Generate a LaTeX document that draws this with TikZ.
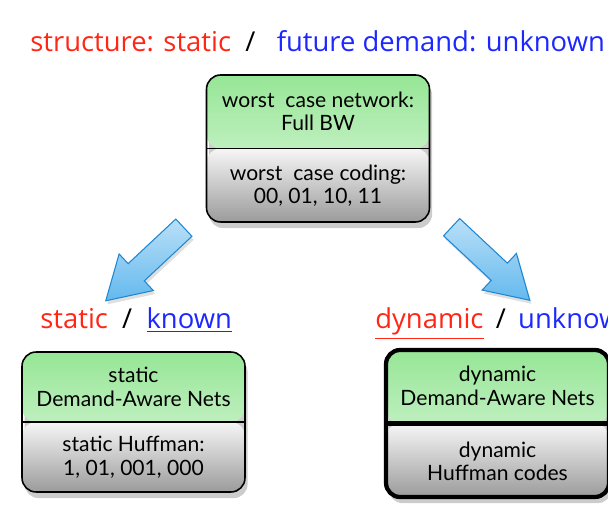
\documentclass[tikz,border=0pt]{standalone}
\usepackage{fontspec}
\setmainfont{Lato}
\newfontfamily\chalkfont{Open Sans}
\usetikzlibrary{shapes.arrows,shadows,positioning,calc}

\definecolor{hdred}{RGB}{255,38,22}
\definecolor{hdblue}{RGB}{28,40,255}
\definecolor{netgreen}{RGB}{150,230,150}
\definecolor{netgreenlt}{RGB}{230,248,230}
\definecolor{codegray}{RGB}{155,155,155}
\definecolor{codegraylt}{RGB}{246,246,246}
\definecolor{arrowblue}{RGB}{100,185,238}
\definecolor{arrowedge}{RGB}{30,135,210}

\begin{document}
\begin{tikzpicture}[
    x=0.02cm, y=-0.02cm,
    splitbox/.style={rectangle, rounded corners=8pt, draw=black, line width=0.9pt,
        minimum width=4.46cm,
        drop shadow={opacity=0.4, shadow xshift=1.5pt, shadow yshift=-3.5pt},
        path picture={
            \shade[top color=netgreen, bottom color=netgreenlt]
                (path picture bounding box.north west) rectangle (path picture bounding box.east);
            \shade[top color=codegraylt, bottom color=codegray]
                (path picture bounding box.west) rectangle (path picture bounding box.south east);
            \draw (path picture bounding box.west) -- (path picture bounding box.east);
        }},
    boxtext/.style={align=center, font=\fontsize{12}{13.6}\selectfont},
    headtext/.style={anchor=base west, inner sep=0pt, font=\chalkfont\fontsize{15.6}{17}\selectfont},
    bigarrow/.style={single arrow, draw=arrowedge, line width=0.6pt,
        top color=arrowblue!45!white, bottom color=arrowblue,
        minimum height=2.14cm, minimum width=0.98cm,
        inner xsep=0pt, inner ysep=0.226cm,
        single arrow head extend=0.265cm, single arrow tip angle=62,
        drop shadow={opacity=0.25, shadow xshift=1pt, shadow yshift=-2pt}}
]
    \clip (0,0) rectangle (608,509);

    % headings
    \node[headtext] (head) at (30,52) {\color{hdred}structure: static\ \ \color{black}/\ \ \ \color{hdblue}future demand: unknown};
    \node[headtext] (lefthead) at (40,329) {\color{hdred}static\ \ \color{black}/\ \ \color{hdblue}\underline{known}};
    \node[headtext] (righthead) at (375,329) {\color{hdred}\underline{dynamic}\hspace{0.45em}\color{black}/\hspace{0.45em}\color{hdblue}unknown};

    % boxes
    \node[splitbox, minimum height=2.94cm] (topbox) at (318,148.5) {};
    \node[splitbox, minimum height=2.8cm] (leftbox) at (133.5,422) {};
    \node[splitbox, minimum height=2.94cm, line width=2.4pt] (rightbox) at (497.5,423.5) {};

    \node[boxtext] (topnet) at ($(topbox.center)!0.5!(topbox.north)$) {worst\ \ case network:\\Full BW};
    \node[boxtext] (topcode) at ($(topbox.center)!0.5!(topbox.south)$) {worst\ \ case coding:\\00, 01, 10, 11};
    \node[boxtext] (leftnet) at ($(leftbox.center)!0.5!(leftbox.north)$) {static\\Demand-Aware Nets};
    \node[boxtext] (leftcode) at ($(leftbox.center)!0.5!(leftbox.south)$) {static Huffman:\\1, 01, 001, 000};
    \node[boxtext] (rightnet) at ($(rightbox.center)!0.5!(rightbox.north)$) {dynamic\\Demand-Aware Nets};
    \node[boxtext] (rightcode) at ($(rightbox.center)!0.5!(rightbox.south)$) {dynamic\\Huffman codes};

    % block arrows
    \coordinate (ltail) at (191,221);
    \coordinate (ltip) at (113,294);
    \coordinate (rtail) at (445,221);
    \coordinate (rtip) at (522,293);
    \path (ltail) -- node[bigarrow, sloped, allow upside down] {} (ltip);
    \path (rtail) -- node[bigarrow, sloped, allow upside down] {} (rtip);
\end{tikzpicture}
\end{document}
